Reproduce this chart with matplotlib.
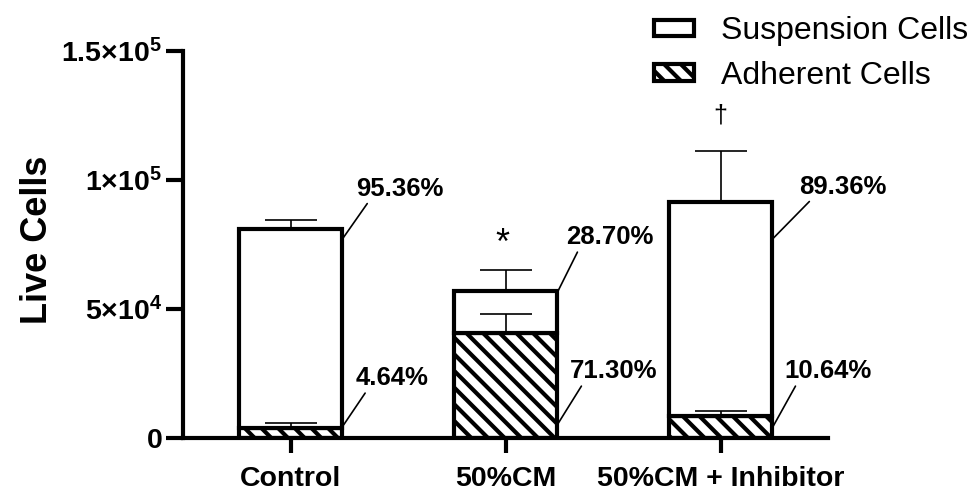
#!/usr/bin/env python3
"""
Live cell counts: suspension vs adherent, stacked bars
"""

import matplotlib

matplotlib.use("Agg")
import matplotlib.pyplot as plt
from matplotlib.patches import Patch

# data
groups = ["Control", "50%CM", "50%CM + Inhibitor"]
adherent = [3700, 40600, 8500]
suspension = [77100, 16400, 83000]
adherent_err = [2100, 7400, 1800]
total_err = [3800, 8000, 19500]
pct_susp = ["95.36%", "28.70%", "89.36%"]
pct_adh = ["4.64%", "71.30%", "10.64%"]
marks = ["", "*", "\u2020"]
yticks = [0, 50000, 100000, 150000]
yticklabels = [r"$\mathbf{0}$", r"$\mathbf{5{\times}10^{4}}$",
               r"$\mathbf{1{\times}10^{5}}$", r"$\mathbf{1.5{\times}10^{5}}$"]

plt.rcParams["font.family"] = ["Liberation Sans", "DejaVu Sans"]
plt.rcParams["mathtext.fontset"] = "custom"
plt.rcParams["mathtext.rm"] = "Liberation Sans"
plt.rcParams["mathtext.bf"] = "Liberation Sans:bold"
plt.rcParams["hatch.linewidth"] = 3.0

fig = plt.figure(figsize=(9.71, 4.93), dpi=100)
ax = fig.add_axes([183 / 971, 55 / 493, 645 / 971, 387.3 / 493])

x = list(range(len(groups)))
width = 0.48
totals = [a + s for a, s in zip(adherent, suspension)]

ax.bar(x, adherent, width, color="white", edgecolor="black", lw=3,
       hatch="\\\\", zorder=2)
ax.bar(x, suspension, width, bottom=adherent, color="white",
       edgecolor="black", lw=3, zorder=2)

ax.errorbar(x, totals, yerr=[[0] * 3, total_err], fmt="none", ecolor="black",
            elinewidth=1.2, capsize=19, capthick=1.2, zorder=1)
ax.errorbar(x, adherent, yerr=[[0] * 3, adherent_err], fmt="none",
            ecolor="black", elinewidth=1.2, capsize=19, capthick=1.2, zorder=3)

# percentage labels with leader lines
susp_start = [76900, 56200, 76900]
susp_text = [(0.305, 93800), (0.28, 75000), (0.365, 94600)]
adh_start = [4200, 5000, 3800]
adh_text = [(0.305, 20400), (0.30, 23100), (0.295, 23100)]
for i in x:
    edge = i + width / 2
    for lab, ys, (dx, yt) in [(pct_susp[i], susp_start[i], susp_text[i]),
                              (pct_adh[i], adh_start[i], adh_text[i])]:
        ax.annotate(lab, xy=(edge, ys), xytext=(i + dx, yt),
                    ha="left", va="baseline", fontsize=18.5, fontweight="bold",
                    arrowprops=dict(arrowstyle="-", lw=1.2, color="black",
                                    shrinkA=0, shrinkB=0, relpos=(0.15, 0)))

ax.text(0.985, 75000, marks[1], ha="center", va="center", fontsize=26)
ax.text(2, 125000, marks[2], ha="center", va="center", fontsize=18)

ax.set_xlim(-0.5, 2.5)
ax.set_ylim(0, 150000)
ax.set_yticks(yticks)
ax.set_yticklabels(yticklabels, fontsize=20.5)
ax.set_xticks(x)
ax.set_xticklabels(groups, fontsize=20.5, fontweight="bold")
ax.tick_params(axis="y", length=12, width=3, pad=3)
ax.tick_params(axis="x", length=11, width=3, pad=9)

for side in ["top", "right"]:
    ax.spines[side].set_visible(False)
for side in ["left", "bottom"]:
    ax.spines[side].set_linewidth(3)

ax.set_ylabel("Live Cells", fontsize=26, fontweight="bold")
ax.yaxis.set_label_coords(-0.199, 0.511)

handles = [
    Patch(facecolor="white", edgecolor="black", lw=3, label="Suspension Cells"),
    Patch(facecolor="white", edgecolor="black", lw=3, hatch="\\\\",
          label="Adherent Cells"),
]
fig.legend(handles=handles, loc="upper right", bbox_to_anchor=(1.02, 1.012),
           frameon=False, fontsize=23, handlelength=1.25, handleheight=0.41,
           handletextpad=0.85, labelspacing=0.45, borderpad=0.2)

fig.savefig("out.png", dpi=100)
